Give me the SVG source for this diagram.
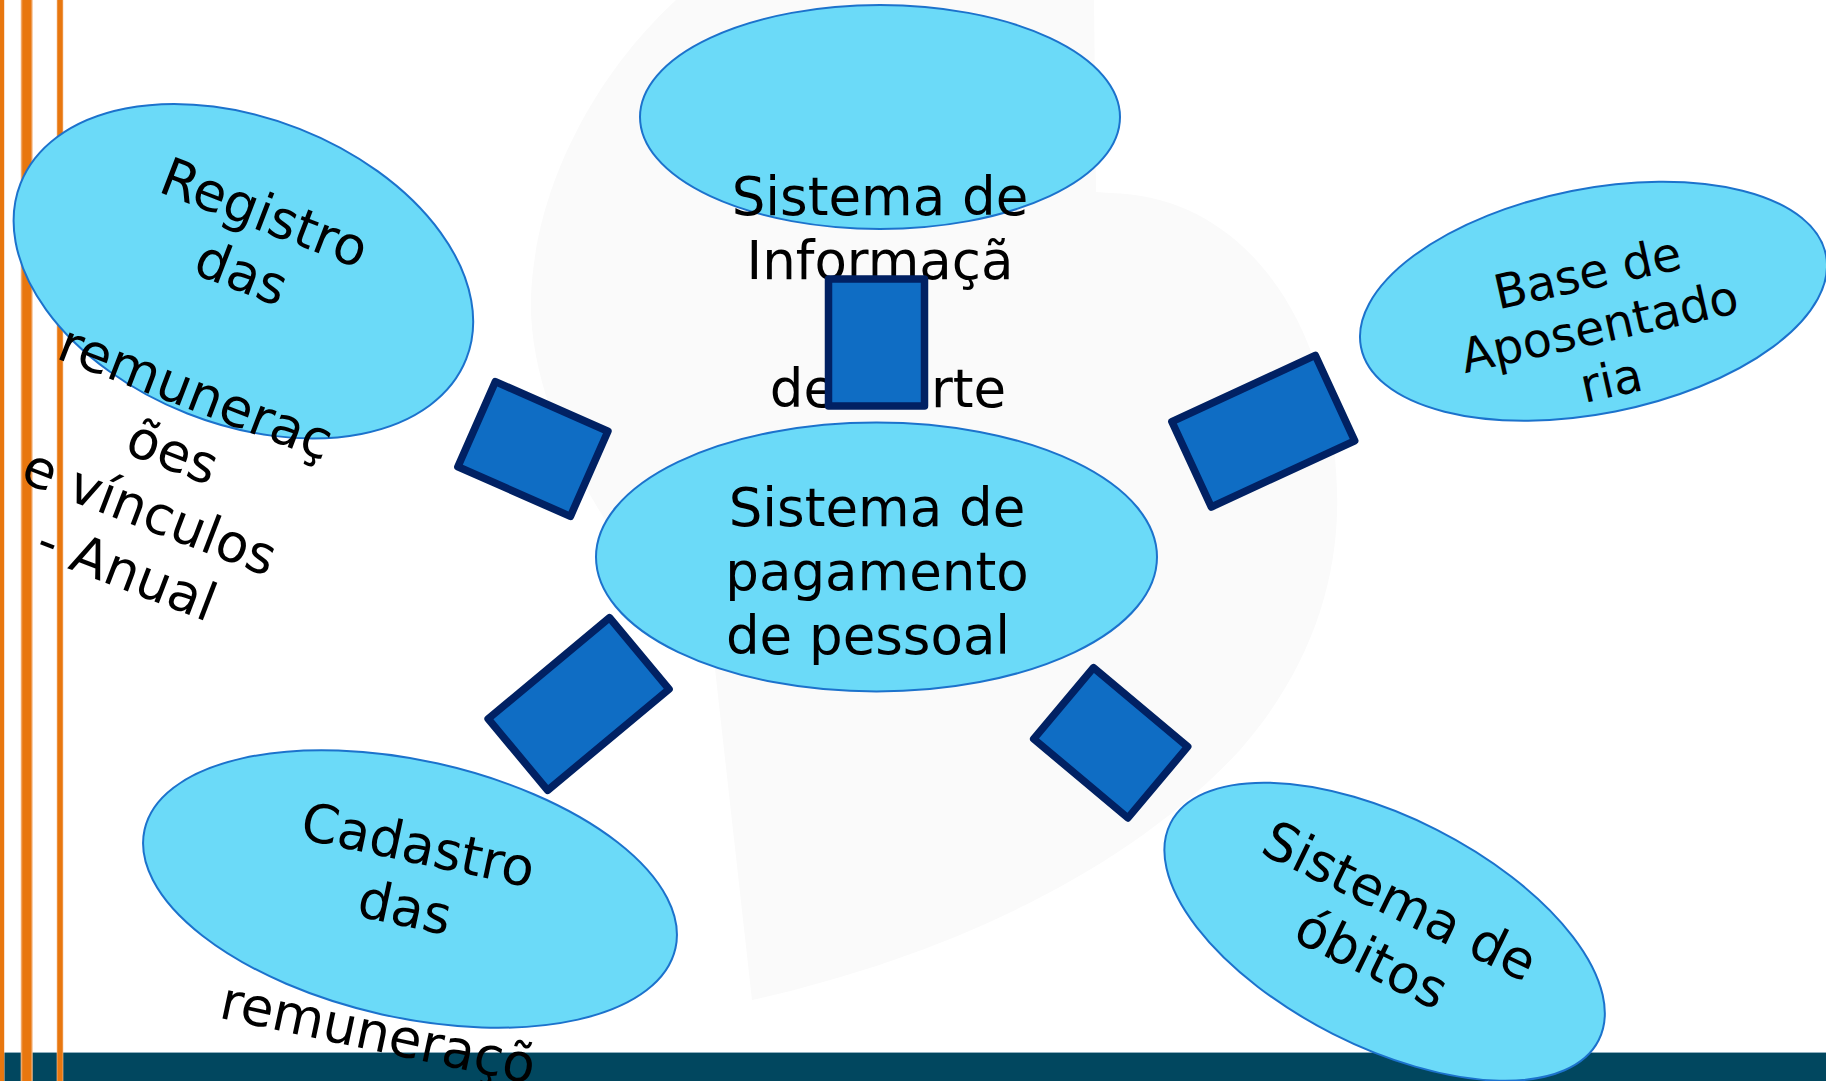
<svg xmlns="http://www.w3.org/2000/svg" width="1826" height="1081" viewBox="0 0 1826 1081">
<defs>
<style>
.el{fill:#6BDAF8;stroke:#1C72CC;stroke-width:2}
.tx{font-family:"DejaVu Sans","Liberation Sans",sans-serif;font-size:53px;fill:#000;text-anchor:middle}
.sm{font-size:47.5px}
.cn{fill:#0F6DC4;stroke:#012163;stroke-width:7.5;stroke-linejoin:round}
</style>
<linearGradient id="og" x1="0" y1="0" x2="1" y2="0">
<stop offset="0" stop-color="#F6C49A"/>
<stop offset="0.18" stop-color="#E8770F"/>
<stop offset="0.82" stop-color="#E8770F"/>
<stop offset="1" stop-color="#F6C49A"/>
</linearGradient>
</defs>
<rect x="0" y="0" width="1826" height="1081" fill="#FFFFFF"/>
<g id="background">
<path d="M676,0 C600,70 536,180 531,296 C527,420 620,560 714,660 L752,1000 C930,960 1120,880 1240,750 C1310,670 1340,580 1337,490 C1333,330 1250,196 1110,193 L1096,192 L1094,0 Z" fill="#FAFAFA"/>
<rect x="0" y="1052" width="1826" height="1.5" fill="#8FB0BF"/>
<rect x="0" y="1053" width="1826" height="28" fill="#01475F"/>
<rect x="-1" y="0" width="5.5" height="1081" fill="url(#og)"/>
<rect x="20.7" y="0" width="12" height="1081" fill="url(#og)"/>
<rect x="56.7" y="0" width="6.6" height="1081" fill="url(#og)"/>
</g>
<g id="node-informacao">
<ellipse class="el" cx="880" cy="117" rx="240" ry="112"/>
<text class="tx" x="880" y="215">Sistema de</text>
<text class="tx" x="880" y="279">Informaçã</text>
<text class="tx" x="888" y="407">de Morte</text>
</g>
<g id="node-pagamento">
<ellipse class="el" cx="876.5" cy="557" rx="280.5" ry="134.5"/>
<text class="tx" x="877" y="525.5">Sistema de</text>
<text class="tx" x="877" y="589.5">pagamento</text>
<text class="tx" x="868" y="653.5">de pessoal</text>
</g>
<g id="node-registro">
<ellipse class="el" cx="243.4" cy="271.2" rx="239.5" ry="153" transform="rotate(21.5 243.4 271.2)"/>
<g transform="translate(258,230) rotate(21)">
<text class="tx" x="0" y="0">Registro</text>
<text class="tx" x="0" y="64">das</text>
<text class="tx" x="0" y="192">remuneraç</text>
<text class="tx" x="0" y="256">ões</text>
<text class="tx" x="0" y="320">e vínculos</text>
<text class="tx" x="0" y="384">- Anual</text>
</g>
</g>
<g id="node-aposentadoria">
<ellipse class="el" cx="1593.5" cy="301.2" rx="237" ry="112.4" transform="rotate(-11.2 1593.5 301.2)"/>
<g transform="translate(1591,289) rotate(-12.5)">
<text class="tx sm" x="0" y="0">Base de</text>
<text class="tx sm" x="0" y="55">Aposentado</text>
<text class="tx sm" x="0" y="110">ria</text>
</g>
</g>
<g id="node-cadastro">
<ellipse class="el" cx="410" cy="889" rx="272" ry="128.5" transform="rotate(12.6 410 889)"/>
<g transform="translate(414.4,863) rotate(12)">
<text class="tx" x="0" y="0">Cadastro</text>
<text class="tx" x="0" y="64">das</text>
<text class="tx" x="0" y="192">remuneraçõ</text>
</g>
</g>
<g id="node-obitos">
<ellipse class="el" cx="1384.6" cy="931.7" rx="240" ry="114.5" transform="rotate(26.9 1384.6 931.7)"/>
<g transform="translate(1391.7,917.6) rotate(26)">
<text class="tx" x="0" y="0">Sistema de</text>
<text class="tx" x="0" y="64">óbitos</text>
</g>
</g>
<g id="connectors">
<rect class="cn" x="828.5" y="279" width="96" height="127"/>
<rect class="cn" x="-61.5" y="-46.5" width="123" height="93" transform="translate(532.9,449) rotate(23.8)"/>
<rect class="cn" x="-79" y="-47" width="158" height="94" transform="translate(1263.3,431.2) rotate(-24.8)"/>
<rect class="cn" x="-79" y="-46.5" width="158" height="93" transform="translate(578.6,704) rotate(-39.8)"/>
<rect class="cn" x="-61.5" y="-46.5" width="123" height="93" transform="translate(1110.7,742.8) rotate(40)"/>
</g>
</svg>
